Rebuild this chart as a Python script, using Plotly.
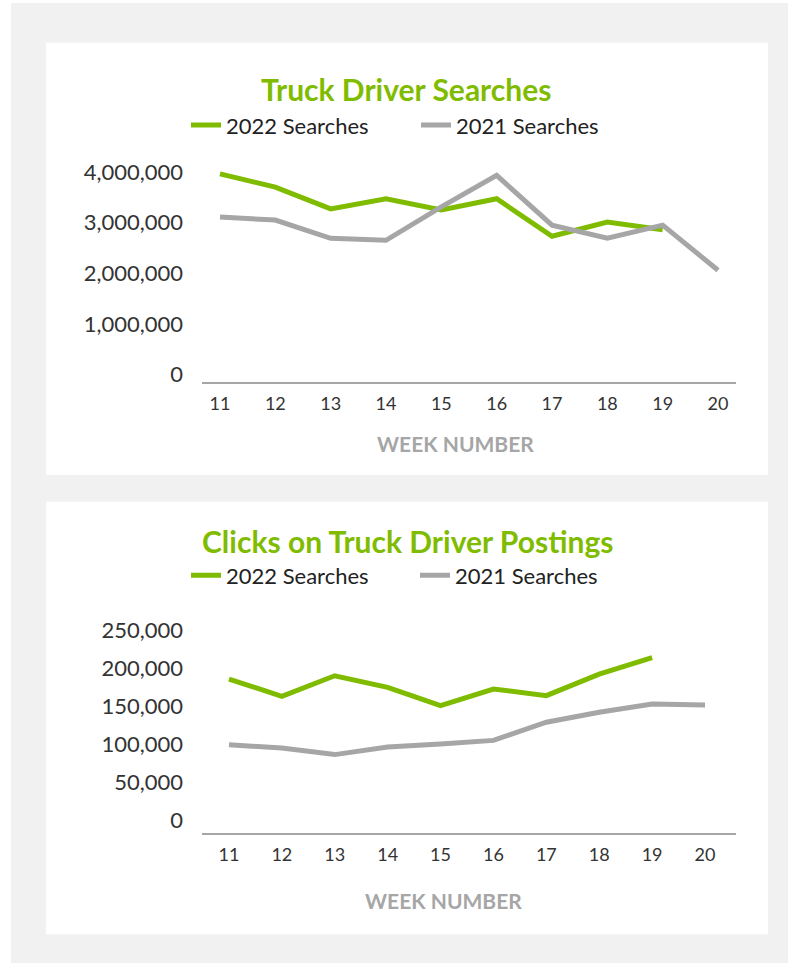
import plotly.graph_objects as go

weeks = [11, 12, 13, 14, 15, 16, 17, 18, 19, 20]

# Truck Driver Searches
searches_2022 = [3960000, 3700000, 3270000, 3470000, 3250000, 3470000, 2730000, 3010000, 2860000, None]
searches_2021 = [3110000, 3050000, 2690000, 2650000, 3310000, 3930000, 2950000, 2690000, 2950000, 2060000]

# Clicks on Truck Driver Postings
clicks_2022 = [185500, 162700, 189800, 174500, 150500, 172400, 163600, 192000, 213700, None]
clicks_2021 = [99100, 94600, 86000, 95900, 100000, 104700, 128700, 141800, 152700, 151400]

series_names = ["2022 Searches", "2021 Searches"]
y1_ticks = [0, 1000000, 2000000, 3000000, 4000000]
y2_ticks = [0, 50000, 100000, 150000, 200000, 250000]

GREEN = "#7fbc00"
GRAY = "#a6a6a6"
W, H = 788, 969
FONT = "Lato, Roboto, sans-serif"


def fx(px):
    return px / W


def fy(py):
    return 1 - py / H


fig = go.Figure()

fig.add_trace(go.Scatter(x=weeks, y=searches_2022, name=series_names[0], mode="lines",
                         line=dict(color=GREEN, width=5), xaxis="x", yaxis="y", legend="legend"))
fig.add_trace(go.Scatter(x=weeks, y=searches_2021, name=series_names[1], mode="lines",
                         line=dict(color=GRAY, width=5), xaxis="x", yaxis="y", legend="legend"))
fig.add_trace(go.Scatter(x=weeks, y=clicks_2022, name=series_names[0], mode="lines",
                         line=dict(color=GREEN, width=5), xaxis="x2", yaxis="y2", legend="legend2"))
fig.add_trace(go.Scatter(x=weeks, y=clicks_2021, name=series_names[1], mode="lines",
                         line=dict(color=GRAY, width=5), xaxis="x2", yaxis="y2", legend="legend2"))

tick_font_x = dict(family=FONT, size=18, color="#333333")
tick_font_y = dict(family=FONT, size=22, color="#333333")

xcommon = dict(tickmode="array", tickvals=weeks, showline=True, linecolor="#a6a6a6", linewidth=2,
               showgrid=False, zeroline=False, ticks="", tickfont=tick_font_x, ticklabelstandoff=5,
               fixedrange=True)
ycommon = dict(tickmode="array", showline=False, showgrid=False, zeroline=False, ticks="",
               tickformat=",d", tickfont=tick_font_y, ticklabelstandoff=18, fixedrange=True)

legend_font = dict(family=FONT, size=22, color="#222222")

fig.update_layout(
    width=W, height=H,
    margin=dict(l=0, r=0, t=0, b=0),
    paper_bgcolor="white",
    plot_bgcolor="rgba(0,0,0,0)",
    xaxis=dict(domain=[fx(202), fx(736)], range=[10.675, 20.325], anchor="y", **xcommon),
    yaxis=dict(domain=[fy(384), fy(150)], range=[-137000, 4450000], tickvals=y1_ticks, anchor="x", **ycommon),
    xaxis2=dict(domain=[fx(202), fx(736)], range=[10.49, 20.586], anchor="y2", **xcommon),
    yaxis2=dict(domain=[fy(837.7), fy(610)], range=[-16600, 281400], tickvals=y2_ticks, anchor="x2", **ycommon),
    legend=dict(orientation="h", x=fx(186), y=fy(126), xanchor="left", yanchor="middle",
                entrywidth=185, bgcolor="rgba(0,0,0,0)", font=legend_font),
    legend2=dict(orientation="h", x=fx(186), y=fy(579), xanchor="left", yanchor="middle",
                 entrywidth=184, bgcolor="rgba(0,0,0,0)", font=legend_font),
    shapes=[
        dict(type="rect", xref="paper", yref="paper", x0=fx(11), x1=1, y0=0, y1=fy(3),
             fillcolor="#f1f1f1", line=dict(width=0), layer="below"),
        dict(type="rect", xref="paper", yref="paper", x0=fx(46), x1=fx(768), y0=fy(478), y1=fy(43),
             fillcolor="white", line=dict(width=0), layer="below"),
        dict(type="rect", xref="paper", yref="paper", x0=fx(46), x1=fx(768), y0=fy(940), y1=fy(505),
             fillcolor="white", line=dict(width=0), layer="below"),
    ],
    annotations=[
        dict(text="<b>Truck Driver Searches</b>", xref="paper", yref="paper", x=fx(406), y=fy(90),
             xanchor="center", yanchor="middle", showarrow=False,
             font=dict(family=FONT, size=30, color=GREEN)),
        dict(text="<b>Clicks on Truck Driver Postings</b>", xref="paper", yref="paper", x=fx(407), y=fy(544),
             xanchor="center", yanchor="middle", showarrow=False,
             font=dict(family=FONT, size=30, color=GREEN)),
        dict(text="<b>WEEK NUMBER</b>", xref="paper", yref="paper", x=fx(455), y=fy(446),
             xanchor="center", yanchor="middle", showarrow=False,
             font=dict(family=FONT, size=21, color="#a6a6a6")),
        dict(text="<b>WEEK NUMBER</b>", xref="paper", yref="paper", x=fx(443), y=fy(906),
             xanchor="center", yanchor="middle", showarrow=False,
             font=dict(family=FONT, size=21, color="#a6a6a6")),
    ],
)

fig.write_html("out.html")
